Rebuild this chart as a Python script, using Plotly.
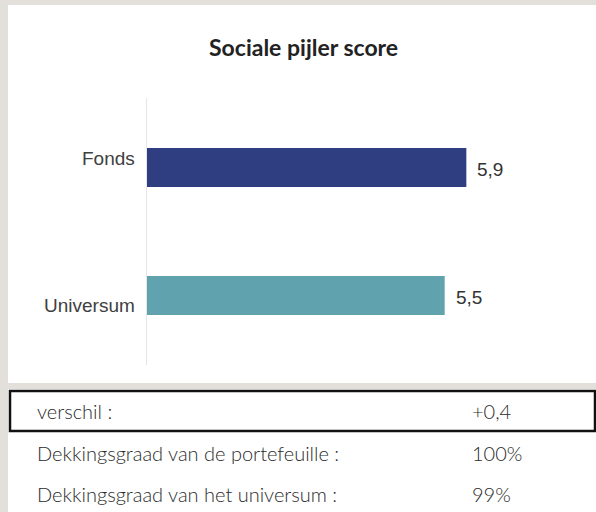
import plotly.graph_objects as go

# data
categories = ["Fonds", "Universum"]
scores = [5.9, 5.5]
bar_colors = ["#2f3e80", "#60a3ae"]
title_text = "Sociale pijler score"
table_labels = ["verschil :", "Dekkingsgraad van de portefeuille :", "Dekkingsgraad van het universum :"]
table_values = ["+0,4", "100%", "99%"]

W, H = 596, 512
beige = "#e3dfda"


def py(px):
    # pixel row -> paper y
    return 1 - px / H


def px_(x):
    return x / W


fig = go.Figure()
fig.add_trace(go.Bar(
    y=categories, x=scores, orientation="h",
    marker=dict(color=bar_colors, line=dict(width=0)),
    width=0.305, hoverinfo="skip",
))

# category labels, slightly offset like the original
offsets = {"Fonds": 9, "Universum": -10}
for c in categories:
    fig.add_annotation(x=0, y=c, xref="x", yref="y", text=c, showarrow=False,
                       xanchor="right", xshift=-10, yshift=offsets[c],
                       font=dict(family="Liberation Sans, Arial", size=19, color="#404040"))

# value labels
for c, v in zip(categories, scores):
    fig.add_annotation(x=v, y=c, xref="x", yref="y", text=f"{v:.1f}".replace(".", ","),
                       showarrow=False, xanchor="left", xshift=9, yshift=-2,
                       font=dict(family="Liberation Sans, Arial", size=19, color="#333333"))

shapes = [
    # white chart card
    dict(type="rect", xref="paper", yref="paper", x0=px_(8), x1=1, y0=py(383), y1=py(5),
         fillcolor="white", line=dict(width=0), layer="below"),
    # table background
    dict(type="rect", xref="paper", yref="paper", x0=px_(8), x1=1, y0=0, y1=py(389),
         fillcolor="white", line=dict(width=0), layer="below"),
    # box around first row
    dict(type="rect", xref="paper", yref="paper", x0=px_(10), x1=px_(595), y0=py(431), y1=py(391),
         fillcolor="rgba(0,0,0,0)", line=dict(width=2.5, color="#111111")),
]

row_y = [411, 453, 494]
for lab, val, ry in zip(table_labels, table_values, row_y):
    fig.add_annotation(x=px_(35), y=py(ry), xref="paper", yref="paper", text=lab,
                       showarrow=False, xanchor="left", yanchor="middle",
                       font=dict(family="Lato", size=20, color="#2b2b2b", weight=300))
    fig.add_annotation(x=px_(470), y=py(ry), xref="paper", yref="paper", text=val,
                       showarrow=False, xanchor="left", yanchor="middle",
                       font=dict(family="Lato", size=20, color="#2b2b2b", weight=300))

fig.add_annotation(x=px_(303), y=py(47), xref="paper", yref="paper", text=title_text,
                   showarrow=False, xanchor="center", yanchor="middle",
                   font=dict(family="Lato", size=23, color="#222222", weight=700))

fig.update_layout(
    width=W, height=H,
    margin=dict(l=0, r=0, t=0, b=0),
    paper_bgcolor=beige,
    plot_bgcolor="rgba(0,0,0,0)",
    showlegend=False,
    shapes=shapes,
    xaxis=dict(domain=[px_(147), px_(580)], range=[0, 8], visible=False, fixedrange=True),
    yaxis=dict(domain=[py(365), py(98)], range=[-0.543, 1.543],
               categoryorder="array", categoryarray=["Universum", "Fonds"],
               showticklabels=False, showgrid=False, zeroline=False,
               showline=True, linecolor="#e6e6e6", linewidth=1, fixedrange=True),
)

fig.write_html("out.html", config={"displayModeBar": False},
               post_script="document.body.style.margin='0';")
